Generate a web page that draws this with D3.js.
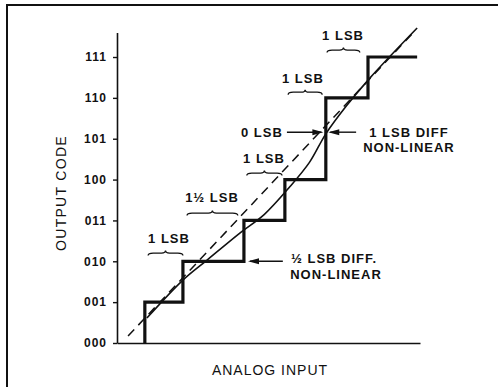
<!DOCTYPE html>
<html>
<head>
<meta charset="utf-8">
<script src="https://cdn.jsdelivr.net/npm/d3@7"></script>
<style>
  body { margin: 0; background: #fff; }
  svg text { font-family: "Liberation Sans", Arial, sans-serif; fill: #111; }
</style>
</head>
<body>
<div id="chart"></div>
<script>
// output codes on the y axis
const codeLabels = ["000", "001", "010", "011", "100", "101", "110", "111"];

// staircase (actual converter), analog input in LSB units -> output code
const stairX    = [0.68, 0.68, 1.61, 3.10, 4.10, 5.10, 6.13, 7.33];
const stairCode = [0,    1,    2,    3,    4,    6,    7,    7];

// ideal transfer line (dashed)
const idealX = [0.27, 7.20];
const idealY = [0.17, 7.56];

// actual transfer curve (solid)
const actualX = [0.73, 1.61, 2.20, 3.00, 3.60, 4.20, 4.70, 5.10, 5.60, 6.18, 7.33];
const actualY = [0.61, 1.54, 2.03, 2.69, 3.15, 3.80, 4.42, 5.12, 5.80, 6.49, 7.71];

// step-width labels: text, center x, baseline y, brace from/to, brace y
const stepLabels  = ["1 LSB", "1 LSB", "1 LSB", "1\u00BD LSB", "1 LSB"];
const stepLabelX  = [5.52, 4.54, 3.59, 2.32, 1.27];
const stepLabelY  = [7.42, 6.36, 4.41, 3.45, 2.45];
const braceFrom   = [5.13, 4.18, 3.17, 1.71, 0.76];
const braceTo     = [5.93, 5.01, 4.03, 2.95, 1.61];
const braceY      = [7.17, 6.14, 4.16, 3.18, 2.20];

const width = 498, height = 387;

const svg = d3.select("#chart")
    .append("svg")
    .attr("width", width)
    .attr("height", height);

// frame (only top and left edges fall inside the picture)
svg.append("rect")
    .attr("x", 7).attr("y", 5)
    .attr("width", 520).attr("height", 420)
    .attr("fill", "none")
    .attr("stroke", "#111")
    .attr("stroke-width", 2);

const x = d3.scaleLinear().domain([0, 7.4]).range([117, 420]);
const y = d3.scaleLinear().domain([0, 7.6]).range([343, 32.5]);

// y axis
const yAxis = svg.append("g")
    .attr("transform", `translate(${x(0)},0)`)
    .call(d3.axisLeft(y)
        .tickValues(d3.range(codeLabels.length))
        .tickFormat(i => codeLabels[i])
        .tickSize(4)
        .tickSizeOuter(0));
yAxis.select(".domain").attr("stroke", "#111").attr("stroke-width", 1.6);
yAxis.selectAll(".tick line").attr("stroke", "#111").attr("stroke-width", 1.4);
yAxis.selectAll(".tick text")
    .attr("x", -10)
    .attr("font-size", "12px")
    .attr("font-weight", "bold")
    .attr("letter-spacing", "1px")
    .style("font-family", "'Liberation Sans', Arial, sans-serif")
    .attr("fill", "#111");

// x axis (no ticks)
const xAxis = svg.append("g")
    .attr("transform", `translate(0,${y(0)})`)
    .call(d3.axisBottom(x).tickValues([]).tickSizeOuter(0));
xAxis.select(".domain").attr("stroke", "#111").attr("stroke-width", 1.6);

// axis titles
svg.append("text")
    .attr("x", 270).attr("y", 375)
    .attr("text-anchor", "middle")
    .attr("font-size", "14px")
    .attr("letter-spacing", "1px")
    .text("ANALOG INPUT");

svg.append("text")
    .attr("transform", "translate(66,193) rotate(-90)")
    .attr("text-anchor", "middle")
    .attr("font-size", "14px")
    .attr("letter-spacing", "1.3px")
    .text("OUTPUT CODE");

// ideal line
const idealPts = idealX.map((d, i) => [d, idealY[i]]);
svg.append("path")
    .datum(idealPts)
    .attr("d", d3.line().x(d => x(d[0])).y(d => y(d[1])))
    .attr("fill", "none")
    .attr("stroke", "#111")
    .attr("stroke-width", 1.5)
    .attr("stroke-dasharray", "9,6");

// actual curve
const actualPts = actualX.map((d, i) => [d, actualY[i]]);
svg.append("path")
    .datum(actualPts)
    .attr("d", d3.line().x(d => x(d[0])).y(d => y(d[1])).curve(d3.curveCatmullRom))
    .attr("fill", "none")
    .attr("stroke", "#111")
    .attr("stroke-width", 1.6);

// staircase
const stairPts = stairX.map((d, i) => [d, stairCode[i]]);
svg.append("path")
    .datum(stairPts)
    .attr("d", d3.line().x(d => x(d[0])).y(d => y(d[1])).curve(d3.curveStepAfter))
    .attr("fill", "none")
    .attr("stroke", "#111")
    .attr("stroke-width", 3.2)
    .attr("stroke-linejoin", "miter");

// step width labels + braces
const annot = svg.append("g")
    .attr("font-size", "13px")
    .attr("font-weight", "bold");

stepLabels.forEach((t, i) => {
    annot.append("text")
        .attr("x", x(stepLabelX[i]))
        .attr("y", y(stepLabelY[i]))
        .attr("text-anchor", "middle")
        .attr("letter-spacing", "1px")
        .text(t);

    const x0 = x(braceFrom[i]), x1 = x(braceTo[i]), by = y(braceY[i]);
    const xm = (x0 + x1) / 2, h = 2.5;
    svg.append("path")
        .attr("d", `M${x0},${by + h} Q${x0},${by} ${x0 + 5},${by} L${xm - 4},${by}` +
                   ` Q${xm},${by} ${xm},${by - h} Q${xm},${by} ${xm + 4},${by}` +
                   ` L${x1 - 5},${by} Q${x1},${by} ${x1},${by + h}`)
        .attr("fill", "none")
        .attr("stroke", "#111")
        .attr("stroke-width", 1.3);
});

// arrows
function arrow(xFrom, xTip, yv) {
    const a = x(xFrom), b = x(xTip), yy = y(yv);
    const dir = b > a ? 1 : -1;
    svg.append("line")
        .attr("x1", a).attr("x2", b - dir * 2)
        .attr("y1", yy).attr("y2", yy)
        .attr("stroke", "#111")
        .attr("stroke-width", 1.4);
    svg.append("path")
        .attr("d", `M${b},${yy} L${b - dir * 11},${yy - 3} L${b - dir * 11},${yy + 3} Z`)
        .attr("fill", "#111");
}

// 0 LSB / 1 LSB DIFF NON-LINEAR
annot.append("text")
    .attr("x", x(4.05)).attr("y", y(5.04))
    .attr("text-anchor", "end")
    .attr("letter-spacing", "1px")
    .text("0 LSB");
arrow(4.15, 5.04, 5.16);
arrow(5.84, 5.16, 5.16);

annot.append("text")
    .attr("x", x(7.13)).attr("y", y(5.04))
    .attr("text-anchor", "middle")
    .attr("letter-spacing", "1px")
    .text("1 LSB DIFF");
annot.append("text")
    .attr("x", x(7.13)).attr("y", y(4.67))
    .attr("text-anchor", "middle")
    .attr("letter-spacing", "1px")
    .text("NON-LINEAR");

// 1/2 LSB DIFF. NON-LINEAR
arrow(4.05, 3.2, 2.0);
annot.append("text")
    .attr("x", x(4.25)).attr("y", y(1.96))
    .attr("letter-spacing", "1px")
    .text("\u00BD LSB DIFF.");
annot.append("text")
    .attr("x", x(4.23)).attr("y", y(1.57))
    .attr("letter-spacing", "1px")
    .text("NON-LINEAR");
</script>
</body>
</html>
